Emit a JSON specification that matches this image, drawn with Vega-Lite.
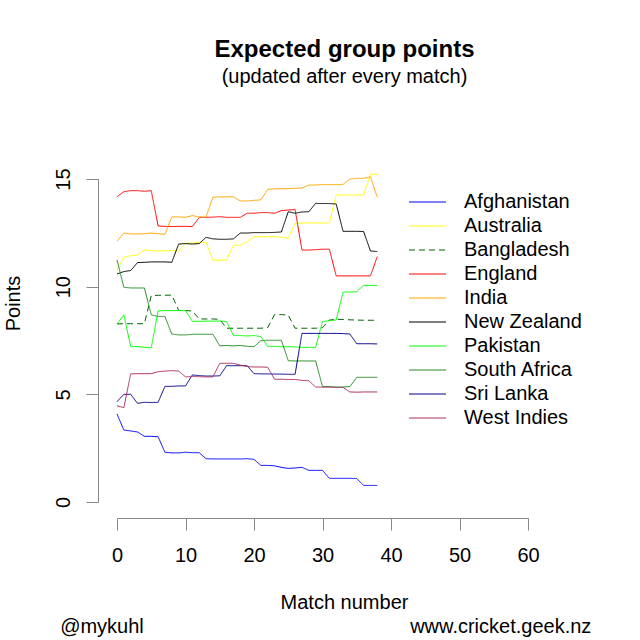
{
  "$schema": "https://vega.github.io/schema/vega-lite/v6.json",
  "width": 411,
  "height": 323,
  "autosize": "none",
  "padding": {"left": 117, "top": 179, "right": 112, "bottom": 138},
  "background": "white",
  "config": {
    "font": "Liberation Sans",
    "view": {"stroke": null},
    "axis": {
      "grid": false,
      "domainColor": "#888888",
      "tickColor": "#888888",
      "tickSize": 12,
      "labelFontSize": 20,
      "labelColor": "black",
      "labelFlush": false,
      "titleFontSize": 20,
      "titleFontWeight": "normal",
      "titleColor": "black"
    },
    "legend": {
      "title": null,
      "orient": "none",
      "legendX": 300.5,
      "legendY": 13,
      "padding": 0,
      "symbolType": "M-2,0H2",
      "symbolSize": 342,
      "symbolStrokeWidth": 1,
      "labelFontSize": 20,
      "labelColor": "black",
      "labelOffset": 26.5,
      "rowPadding": 4
    }
  },
  "title": {
    "text": "Expected group points",
    "subtitle": "(updated after every match)",
    "fontSize": 24,
    "fontWeight": "bold",
    "subtitleFontSize": 20,
    "subtitlePadding": 5,
    "color": "black",
    "subtitleColor": "black",
    "anchor": "middle",
    "frame": "group",
    "dx": 22,
    "offset": 81
  },
  "data": {
    "values": [
      {"team": "Afghanistan", "match": 0, "points": 4.09},
      {"team": "Afghanistan", "match": 1, "points": 3.34},
      {"team": "Afghanistan", "match": 2, "points": 3.30},
      {"team": "Afghanistan", "match": 3, "points": 3.25},
      {"team": "Afghanistan", "match": 4, "points": 3.05},
      {"team": "Afghanistan", "match": 5, "points": 3.05},
      {"team": "Afghanistan", "match": 6, "points": 3.03},
      {"team": "Afghanistan", "match": 7, "points": 2.31},
      {"team": "Afghanistan", "match": 8, "points": 2.28},
      {"team": "Afghanistan", "match": 9, "points": 2.28},
      {"team": "Afghanistan", "match": 10, "points": 2.31},
      {"team": "Afghanistan", "match": 11, "points": 2.29},
      {"team": "Afghanistan", "match": 12, "points": 2.29},
      {"team": "Afghanistan", "match": 13, "points": 2.01},
      {"team": "Afghanistan", "match": 14, "points": 2.0},
      {"team": "Afghanistan", "match": 15, "points": 2.0},
      {"team": "Afghanistan", "match": 16, "points": 2.0},
      {"team": "Afghanistan", "match": 17, "points": 2.0},
      {"team": "Afghanistan", "match": 18, "points": 2.0},
      {"team": "Afghanistan", "match": 19, "points": 2.01},
      {"team": "Afghanistan", "match": 20, "points": 1.98},
      {"team": "Afghanistan", "match": 21, "points": 1.70},
      {"team": "Afghanistan", "match": 22, "points": 1.70},
      {"team": "Afghanistan", "match": 23, "points": 1.68},
      {"team": "Afghanistan", "match": 24, "points": 1.61},
      {"team": "Afghanistan", "match": 25, "points": 1.56},
      {"team": "Afghanistan", "match": 26, "points": 1.58},
      {"team": "Afghanistan", "match": 27, "points": 1.61},
      {"team": "Afghanistan", "match": 28, "points": 1.47},
      {"team": "Afghanistan", "match": 29, "points": 1.47},
      {"team": "Afghanistan", "match": 30, "points": 1.47},
      {"team": "Afghanistan", "match": 31, "points": 1.10},
      {"team": "Afghanistan", "match": 32, "points": 1.10},
      {"team": "Afghanistan", "match": 33, "points": 1.10},
      {"team": "Afghanistan", "match": 34, "points": 1.10},
      {"team": "Afghanistan", "match": 35, "points": 1.09},
      {"team": "Afghanistan", "match": 36, "points": 0.77},
      {"team": "Afghanistan", "match": 37, "points": 0.77},
      {"team": "Afghanistan", "match": 38, "points": 0.77},
      {"team": "Australia", "match": 0, "points": 10.78},
      {"team": "Australia", "match": 1, "points": 11.36},
      {"team": "Australia", "match": 2, "points": 11.44},
      {"team": "Australia", "match": 3, "points": 11.47},
      {"team": "Australia", "match": 4, "points": 11.70},
      {"team": "Australia", "match": 5, "points": 11.68},
      {"team": "Australia", "match": 6, "points": 11.66},
      {"team": "Australia", "match": 7, "points": 11.66},
      {"team": "Australia", "match": 8, "points": 11.68},
      {"team": "Australia", "match": 9, "points": 11.66},
      {"team": "Australia", "match": 10, "points": 12.01},
      {"team": "Australia", "match": 11, "points": 12.03},
      {"team": "Australia", "match": 12, "points": 12.06},
      {"team": "Australia", "match": 13, "points": 12.06},
      {"team": "Australia", "match": 14, "points": 11.23},
      {"team": "Australia", "match": 15, "points": 11.23},
      {"team": "Australia", "match": 16, "points": 11.24},
      {"team": "Australia", "match": 17, "points": 11.92},
      {"team": "Australia", "match": 18, "points": 11.92},
      {"team": "Australia", "match": 19, "points": 12.09},
      {"team": "Australia", "match": 20, "points": 12.32},
      {"team": "Australia", "match": 21, "points": 12.32},
      {"team": "Australia", "match": 22, "points": 12.32},
      {"team": "Australia", "match": 23, "points": 12.32},
      {"team": "Australia", "match": 24, "points": 12.30},
      {"team": "Australia", "match": 25, "points": 12.25},
      {"team": "Australia", "match": 26, "points": 12.94},
      {"team": "Australia", "match": 27, "points": 12.96},
      {"team": "Australia", "match": 28, "points": 12.96},
      {"team": "Australia", "match": 29, "points": 12.96},
      {"team": "Australia", "match": 30, "points": 12.96},
      {"team": "Australia", "match": 31, "points": 12.96},
      {"team": "Australia", "match": 32, "points": 14.26},
      {"team": "Australia", "match": 33, "points": 14.26},
      {"team": "Australia", "match": 34, "points": 14.26},
      {"team": "Australia", "match": 35, "points": 14.26},
      {"team": "Australia", "match": 36, "points": 14.26},
      {"team": "Australia", "match": 37, "points": 15.22},
      {"team": "Australia", "match": 38, "points": 15.22},
      {"team": "Bangladesh", "match": 0, "points": 8.27},
      {"team": "Bangladesh", "match": 1, "points": 8.28},
      {"team": "Bangladesh", "match": 2, "points": 8.28},
      {"team": "Bangladesh", "match": 3, "points": 8.28},
      {"team": "Bangladesh", "match": 4, "points": 8.28},
      {"team": "Bangladesh", "match": 5, "points": 9.58},
      {"team": "Bangladesh", "match": 6, "points": 9.60},
      {"team": "Bangladesh", "match": 7, "points": 9.60},
      {"team": "Bangladesh", "match": 8, "points": 9.61},
      {"team": "Bangladesh", "match": 9, "points": 8.90},
      {"team": "Bangladesh", "match": 10, "points": 8.89},
      {"team": "Bangladesh", "match": 11, "points": 8.87},
      {"team": "Bangladesh", "match": 12, "points": 8.50},
      {"team": "Bangladesh", "match": 13, "points": 8.50},
      {"team": "Bangladesh", "match": 14, "points": 8.50},
      {"team": "Bangladesh", "match": 15, "points": 8.48},
      {"team": "Bangladesh", "match": 16, "points": 8.07},
      {"team": "Bangladesh", "match": 17, "points": 8.07},
      {"team": "Bangladesh", "match": 18, "points": 8.07},
      {"team": "Bangladesh", "match": 19, "points": 8.07},
      {"team": "Bangladesh", "match": 20, "points": 8.07},
      {"team": "Bangladesh", "match": 21, "points": 8.07},
      {"team": "Bangladesh", "match": 22, "points": 8.10},
      {"team": "Bangladesh", "match": 23, "points": 8.70},
      {"team": "Bangladesh", "match": 24, "points": 8.70},
      {"team": "Bangladesh", "match": 25, "points": 8.68},
      {"team": "Bangladesh", "match": 26, "points": 8.07},
      {"team": "Bangladesh", "match": 27, "points": 8.07},
      {"team": "Bangladesh", "match": 28, "points": 8.07},
      {"team": "Bangladesh", "match": 29, "points": 8.07},
      {"team": "Bangladesh", "match": 30, "points": 8.10},
      {"team": "Bangladesh", "match": 31, "points": 8.45},
      {"team": "Bangladesh", "match": 32, "points": 8.48},
      {"team": "Bangladesh", "match": 33, "points": 8.48},
      {"team": "Bangladesh", "match": 34, "points": 8.46},
      {"team": "Bangladesh", "match": 35, "points": 8.45},
      {"team": "Bangladesh", "match": 36, "points": 8.44},
      {"team": "Bangladesh", "match": 37, "points": 8.44},
      {"team": "Bangladesh", "match": 38, "points": 8.44},
      {"team": "England", "match": 0, "points": 14.18},
      {"team": "England", "match": 1, "points": 14.41},
      {"team": "England", "match": 2, "points": 14.46},
      {"team": "England", "match": 3, "points": 14.46},
      {"team": "England", "match": 4, "points": 14.43},
      {"team": "England", "match": 5, "points": 14.46},
      {"team": "England", "match": 6, "points": 12.82},
      {"team": "England", "match": 7, "points": 12.80},
      {"team": "England", "match": 8, "points": 12.79},
      {"team": "England", "match": 9, "points": 12.80},
      {"team": "England", "match": 10, "points": 12.80},
      {"team": "England", "match": 11, "points": 12.79},
      {"team": "England", "match": 12, "points": 13.21},
      {"team": "England", "match": 13, "points": 13.22},
      {"team": "England", "match": 14, "points": 13.23},
      {"team": "England", "match": 15, "points": 13.25},
      {"team": "England", "match": 16, "points": 13.22},
      {"team": "England", "match": 17, "points": 13.22},
      {"team": "England", "match": 18, "points": 13.22},
      {"team": "England", "match": 19, "points": 13.41},
      {"team": "England", "match": 20, "points": 13.41},
      {"team": "England", "match": 21, "points": 13.44},
      {"team": "England", "match": 22, "points": 13.44},
      {"team": "England", "match": 23, "points": 13.41},
      {"team": "England", "match": 24, "points": 13.53},
      {"team": "England", "match": 25, "points": 13.56},
      {"team": "England", "match": 26, "points": 13.58},
      {"team": "England", "match": 27, "points": 11.70},
      {"team": "England", "match": 28, "points": 11.70},
      {"team": "England", "match": 29, "points": 11.72},
      {"team": "England", "match": 30, "points": 11.74},
      {"team": "England", "match": 31, "points": 11.74},
      {"team": "England", "match": 32, "points": 10.50},
      {"team": "England", "match": 33, "points": 10.50},
      {"team": "England", "match": 34, "points": 10.50},
      {"team": "England", "match": 35, "points": 10.50},
      {"team": "England", "match": 36, "points": 10.50},
      {"team": "England", "match": 37, "points": 10.50},
      {"team": "England", "match": 38, "points": 11.40},
      {"team": "India", "match": 0, "points": 12.11},
      {"team": "India", "match": 1, "points": 12.49},
      {"team": "India", "match": 2, "points": 12.45},
      {"team": "India", "match": 3, "points": 12.45},
      {"team": "India", "match": 4, "points": 12.46},
      {"team": "India", "match": 5, "points": 12.49},
      {"team": "India", "match": 6, "points": 12.46},
      {"team": "India", "match": 7, "points": 12.43},
      {"team": "India", "match": 8, "points": 13.24},
      {"team": "India", "match": 9, "points": 13.24},
      {"team": "India", "match": 10, "points": 13.22},
      {"team": "India", "match": 11, "points": 13.30},
      {"team": "India", "match": 12, "points": 13.24},
      {"team": "India", "match": 13, "points": 13.24},
      {"team": "India", "match": 14, "points": 14.15},
      {"team": "India", "match": 15, "points": 14.17},
      {"team": "India", "match": 16, "points": 14.17},
      {"team": "India", "match": 17, "points": 14.17},
      {"team": "India", "match": 18, "points": 13.98},
      {"team": "India", "match": 19, "points": 13.98},
      {"team": "India", "match": 20, "points": 14.01},
      {"team": "India", "match": 21, "points": 14.03},
      {"team": "India", "match": 22, "points": 14.52},
      {"team": "India", "match": 23, "points": 14.54},
      {"team": "India", "match": 24, "points": 14.55},
      {"team": "India", "match": 25, "points": 14.55},
      {"team": "India", "match": 26, "points": 14.57},
      {"team": "India", "match": 27, "points": 14.58},
      {"team": "India", "match": 28, "points": 14.72},
      {"team": "India", "match": 29, "points": 14.72},
      {"team": "India", "match": 30, "points": 14.74},
      {"team": "India", "match": 31, "points": 14.74},
      {"team": "India", "match": 32, "points": 14.74},
      {"team": "India", "match": 33, "points": 14.75},
      {"team": "India", "match": 34, "points": 15.0},
      {"team": "India", "match": 35, "points": 15.03},
      {"team": "India", "match": 36, "points": 15.03},
      {"team": "India", "match": 37, "points": 15.10},
      {"team": "India", "match": 38, "points": 14.15},
      {"team": "New Zealand", "match": 0, "points": 10.59},
      {"team": "New Zealand", "match": 1, "points": 10.70},
      {"team": "New Zealand", "match": 2, "points": 10.75},
      {"team": "New Zealand", "match": 3, "points": 11.12},
      {"team": "New Zealand", "match": 4, "points": 11.13},
      {"team": "New Zealand", "match": 5, "points": 11.15},
      {"team": "New Zealand", "match": 6, "points": 11.15},
      {"team": "New Zealand", "match": 7, "points": 11.15},
      {"team": "New Zealand", "match": 8, "points": 11.13},
      {"team": "New Zealand", "match": 9, "points": 11.98},
      {"team": "New Zealand", "match": 10, "points": 12.0},
      {"team": "New Zealand", "match": 11, "points": 11.98},
      {"team": "New Zealand", "match": 12, "points": 12.0},
      {"team": "New Zealand", "match": 13, "points": 12.29},
      {"team": "New Zealand", "match": 14, "points": 12.22},
      {"team": "New Zealand", "match": 15, "points": 12.20},
      {"team": "New Zealand", "match": 16, "points": 12.20},
      {"team": "New Zealand", "match": 17, "points": 12.22},
      {"team": "New Zealand", "match": 18, "points": 12.49},
      {"team": "New Zealand", "match": 19, "points": 12.49},
      {"team": "New Zealand", "match": 20, "points": 12.51},
      {"team": "New Zealand", "match": 21, "points": 12.51},
      {"team": "New Zealand", "match": 22, "points": 12.51},
      {"team": "New Zealand", "match": 23, "points": 12.52},
      {"team": "New Zealand", "match": 24, "points": 12.54},
      {"team": "New Zealand", "match": 25, "points": 13.48},
      {"team": "New Zealand", "match": 26, "points": 13.41},
      {"team": "New Zealand", "match": 27, "points": 13.47},
      {"team": "New Zealand", "match": 28, "points": 13.48},
      {"team": "New Zealand", "match": 29, "points": 13.87},
      {"team": "New Zealand", "match": 30, "points": 13.86},
      {"team": "New Zealand", "match": 31, "points": 13.86},
      {"team": "New Zealand", "match": 32, "points": 13.84},
      {"team": "New Zealand", "match": 33, "points": 12.57},
      {"team": "New Zealand", "match": 34, "points": 12.57},
      {"team": "New Zealand", "match": 35, "points": 12.57},
      {"team": "New Zealand", "match": 36, "points": 12.56},
      {"team": "New Zealand", "match": 37, "points": 11.66},
      {"team": "New Zealand", "match": 38, "points": 11.63},
      {"team": "Pakistan", "match": 0, "points": 8.27},
      {"team": "Pakistan", "match": 1, "points": 8.69},
      {"team": "Pakistan", "match": 2, "points": 7.22},
      {"team": "Pakistan", "match": 3, "points": 7.21},
      {"team": "Pakistan", "match": 4, "points": 7.19},
      {"team": "Pakistan", "match": 5, "points": 7.15},
      {"team": "Pakistan", "match": 6, "points": 8.87},
      {"team": "Pakistan", "match": 7, "points": 8.89},
      {"team": "Pakistan", "match": 8, "points": 8.89},
      {"team": "Pakistan", "match": 9, "points": 8.89},
      {"team": "Pakistan", "match": 10, "points": 8.89},
      {"team": "Pakistan", "match": 11, "points": 8.39},
      {"team": "Pakistan", "match": 12, "points": 8.39},
      {"team": "Pakistan", "match": 13, "points": 8.40},
      {"team": "Pakistan", "match": 14, "points": 8.40},
      {"team": "Pakistan", "match": 15, "points": 8.40},
      {"team": "Pakistan", "match": 16, "points": 8.38},
      {"team": "Pakistan", "match": 17, "points": 7.73},
      {"team": "Pakistan", "match": 18, "points": 7.73},
      {"team": "Pakistan", "match": 19, "points": 7.71},
      {"team": "Pakistan", "match": 20, "points": 7.73},
      {"team": "Pakistan", "match": 21, "points": 7.68},
      {"team": "Pakistan", "match": 22, "points": 7.23},
      {"team": "Pakistan", "match": 23, "points": 7.23},
      {"team": "Pakistan", "match": 24, "points": 7.21},
      {"team": "Pakistan", "match": 25, "points": 7.21},
      {"team": "Pakistan", "match": 26, "points": 7.20},
      {"team": "Pakistan", "match": 27, "points": 7.18},
      {"team": "Pakistan", "match": 28, "points": 7.18},
      {"team": "Pakistan", "match": 29, "points": 7.18},
      {"team": "Pakistan", "match": 30, "points": 8.38},
      {"team": "Pakistan", "match": 31, "points": 8.42},
      {"team": "Pakistan", "match": 32, "points": 8.45},
      {"team": "Pakistan", "match": 33, "points": 9.75},
      {"team": "Pakistan", "match": 34, "points": 9.75},
      {"team": "Pakistan", "match": 35, "points": 9.77},
      {"team": "Pakistan", "match": 36, "points": 10.06},
      {"team": "Pakistan", "match": 37, "points": 10.06},
      {"team": "Pakistan", "match": 38, "points": 10.06},
      {"team": "South Africa", "match": 0, "points": 11.24},
      {"team": "South Africa", "match": 1, "points": 9.97},
      {"team": "South Africa", "match": 2, "points": 9.94},
      {"team": "South Africa", "match": 3, "points": 9.94},
      {"team": "South Africa", "match": 4, "points": 9.94},
      {"team": "South Africa", "match": 5, "points": 8.69},
      {"team": "South Africa", "match": 6, "points": 8.62},
      {"team": "South Africa", "match": 7, "points": 8.61},
      {"team": "South Africa", "match": 8, "points": 7.80},
      {"team": "South Africa", "match": 9, "points": 7.76},
      {"team": "South Africa", "match": 10, "points": 7.76},
      {"team": "South Africa", "match": 11, "points": 7.79},
      {"team": "South Africa", "match": 12, "points": 7.79},
      {"team": "South Africa", "match": 13, "points": 7.79},
      {"team": "South Africa", "match": 14, "points": 7.79},
      {"team": "South Africa", "match": 15, "points": 7.25},
      {"team": "South Africa", "match": 16, "points": 7.27},
      {"team": "South Africa", "match": 17, "points": 7.25},
      {"team": "South Africa", "match": 18, "points": 7.27},
      {"team": "South Africa", "match": 19, "points": 7.23},
      {"team": "South Africa", "match": 20, "points": 7.21},
      {"team": "South Africa", "match": 21, "points": 7.49},
      {"team": "South Africa", "match": 22, "points": 7.51},
      {"team": "South Africa", "match": 23, "points": 7.51},
      {"team": "South Africa", "match": 24, "points": 7.51},
      {"team": "South Africa", "match": 25, "points": 6.56},
      {"team": "South Africa", "match": 26, "points": 6.55},
      {"team": "South Africa", "match": 27, "points": 6.55},
      {"team": "South Africa", "match": 28, "points": 6.55},
      {"team": "South Africa", "match": 29, "points": 6.55},
      {"team": "South Africa", "match": 30, "points": 5.36},
      {"team": "South Africa", "match": 31, "points": 5.36},
      {"team": "South Africa", "match": 32, "points": 5.34},
      {"team": "South Africa", "match": 33, "points": 5.34},
      {"team": "South Africa", "match": 34, "points": 5.36},
      {"team": "South Africa", "match": 35, "points": 5.79},
      {"team": "South Africa", "match": 36, "points": 5.79},
      {"team": "South Africa", "match": 37, "points": 5.79},
      {"team": "South Africa", "match": 38, "points": 5.79},
      {"team": "Sri Lanka", "match": 0, "points": 4.66},
      {"team": "Sri Lanka", "match": 1, "points": 5.00},
      {"team": "Sri Lanka", "match": 2, "points": 5.00},
      {"team": "Sri Lanka", "match": 3, "points": 4.58},
      {"team": "Sri Lanka", "match": 4, "points": 4.63},
      {"team": "Sri Lanka", "match": 5, "points": 4.62},
      {"team": "Sri Lanka", "match": 6, "points": 4.63},
      {"team": "Sri Lanka", "match": 7, "points": 5.37},
      {"team": "Sri Lanka", "match": 8, "points": 5.37},
      {"team": "Sri Lanka", "match": 9, "points": 5.39},
      {"team": "Sri Lanka", "match": 10, "points": 5.39},
      {"team": "Sri Lanka", "match": 11, "points": 5.90},
      {"team": "Sri Lanka", "match": 12, "points": 5.87},
      {"team": "Sri Lanka", "match": 13, "points": 5.85},
      {"team": "Sri Lanka", "match": 14, "points": 5.85},
      {"team": "Sri Lanka", "match": 15, "points": 5.86},
      {"team": "Sri Lanka", "match": 16, "points": 6.33},
      {"team": "Sri Lanka", "match": 17, "points": 6.33},
      {"team": "Sri Lanka", "match": 18, "points": 6.33},
      {"team": "Sri Lanka", "match": 19, "points": 6.33},
      {"team": "Sri Lanka", "match": 20, "points": 5.96},
      {"team": "Sri Lanka", "match": 21, "points": 5.95},
      {"team": "Sri Lanka", "match": 22, "points": 5.95},
      {"team": "Sri Lanka", "match": 23, "points": 5.94},
      {"team": "Sri Lanka", "match": 24, "points": 5.94},
      {"team": "Sri Lanka", "match": 25, "points": 5.93},
      {"team": "Sri Lanka", "match": 26, "points": 5.93},
      {"team": "Sri Lanka", "match": 27, "points": 7.83},
      {"team": "Sri Lanka", "match": 28, "points": 7.83},
      {"team": "Sri Lanka", "match": 29, "points": 7.83},
      {"team": "Sri Lanka", "match": 30, "points": 7.83},
      {"team": "Sri Lanka", "match": 31, "points": 7.83},
      {"team": "Sri Lanka", "match": 32, "points": 7.83},
      {"team": "Sri Lanka", "match": 33, "points": 7.82},
      {"team": "Sri Lanka", "match": 34, "points": 7.80},
      {"team": "Sri Lanka", "match": 35, "points": 7.35},
      {"team": "Sri Lanka", "match": 36, "points": 7.35},
      {"team": "Sri Lanka", "match": 37, "points": 7.35},
      {"team": "Sri Lanka", "match": 38, "points": 7.34},
      {"team": "West Indies", "match": 0, "points": 4.47},
      {"team": "West Indies", "match": 1, "points": 4.38},
      {"team": "West Indies", "match": 2, "points": 5.95},
      {"team": "West Indies", "match": 3, "points": 5.96},
      {"team": "West Indies", "match": 4, "points": 5.96},
      {"team": "West Indies", "match": 5, "points": 5.96},
      {"team": "West Indies", "match": 6, "points": 6.05},
      {"team": "West Indies", "match": 7, "points": 6.08},
      {"team": "West Indies", "match": 8, "points": 6.10},
      {"team": "West Indies", "match": 9, "points": 6.08},
      {"team": "West Indies", "match": 10, "points": 5.81},
      {"team": "West Indies", "match": 11, "points": 5.83},
      {"team": "West Indies", "match": 12, "points": 5.82},
      {"team": "West Indies", "match": 13, "points": 5.81},
      {"team": "West Indies", "match": 14, "points": 5.81},
      {"team": "West Indies", "match": 15, "points": 6.44},
      {"team": "West Indies", "match": 16, "points": 6.44},
      {"team": "West Indies", "match": 17, "points": 6.44},
      {"team": "West Indies", "match": 18, "points": 6.36},
      {"team": "West Indies", "match": 19, "points": 6.29},
      {"team": "West Indies", "match": 20, "points": 6.27},
      {"team": "West Indies", "match": 21, "points": 6.27},
      {"team": "West Indies", "match": 22, "points": 6.26},
      {"team": "West Indies", "match": 23, "points": 5.70},
      {"team": "West Indies", "match": 24, "points": 5.70},
      {"team": "West Indies", "match": 25, "points": 5.69},
      {"team": "West Indies", "match": 26, "points": 5.69},
      {"team": "West Indies", "match": 27, "points": 5.65},
      {"team": "West Indies", "match": 28, "points": 5.63},
      {"team": "West Indies", "match": 29, "points": 5.34},
      {"team": "West Indies", "match": 30, "points": 5.33},
      {"team": "West Indies", "match": 31, "points": 5.33},
      {"team": "West Indies", "match": 32, "points": 5.32},
      {"team": "West Indies", "match": 33, "points": 5.32},
      {"team": "West Indies", "match": 34, "points": 5.11},
      {"team": "West Indies", "match": 35, "points": 5.10},
      {"team": "West Indies", "match": 36, "points": 5.11},
      {"team": "West Indies", "match": 37, "points": 5.11},
      {"team": "West Indies", "match": 38, "points": 5.11}
    ]
  },
  "layer": [
    {
      "mark": {"type": "line", "strokeWidth": 1, "interpolate": "linear"},
      "encoding": {
        "x": {
          "field": "match",
          "type": "quantitative",
          "title": "Match number",
          "scale": {"domain": [0, 60], "nice": false, "zero": false},
          "axis": {
            "values": [0, 10, 20, 30, 40, 50, 60],
            "offset": 16,
            "labelPadding": 15,
            "labelAngle": 0,
            "titleX": 227,
            "titlePadding": 27
          }
        },
        "y": {
          "field": "points",
          "type": "quantitative",
          "title": "Points",
          "scale": {"domain": [0, 15], "nice": false, "zero": false},
          "axis": {
            "values": [0, 5, 10, 15],
            "offset": 19,
            "labelAngle": 270,
            "labelPadding": 13,
            "titleY": 124,
            "titlePadding": 30
          }
        },
        "color": {
          "field": "team",
          "type": "nominal",
          "scale": {
            "domain": ["Afghanistan", "Australia", "Bangladesh", "England", "India", "New Zealand", "Pakistan", "South Africa", "Sri Lanka", "West Indies"],
            "range": ["#0000FF", "#FFFF00", "#006400", "#FF0000", "#FFA500", "#000000", "#00FF00", "#228B22", "#00008B", "#B03060"]
          }
        },
        "strokeDash": {
          "field": "team",
          "type": "nominal",
          "scale": {
            "domain": ["Afghanistan", "Australia", "Bangladesh", "England", "India", "New Zealand", "Pakistan", "South Africa", "Sri Lanka", "West Indies"],
            "range": [[1, 0], [1, 0], [6, 4], [1, 0], [1, 0], [1, 0], [1, 0], [1, 0], [1, 0], [1, 0]]
          }
        }
      }
    },
    {
      "data": {"values": [{"label": "@mykuhl"}]},
      "mark": {"type": "text", "align": "left", "baseline": "alphabetic", "fontSize": 20, "color": "black"},
      "encoding": {
        "x": {"datum": -8.3, "type": "quantitative"},
        "y": {"datum": -6.1, "type": "quantitative"},
        "text": {"field": "label"}
      }
    },
    {
      "data": {"values": [{"label": "www.cricket.geek.nz"}]},
      "mark": {"type": "text", "align": "left", "baseline": "alphabetic", "fontSize": 20, "color": "black"},
      "encoding": {
        "x": {"datum": 42.8, "type": "quantitative"},
        "y": {"datum": -6.1, "type": "quantitative"},
        "text": {"field": "label"}
      }
    }
  ]
}
